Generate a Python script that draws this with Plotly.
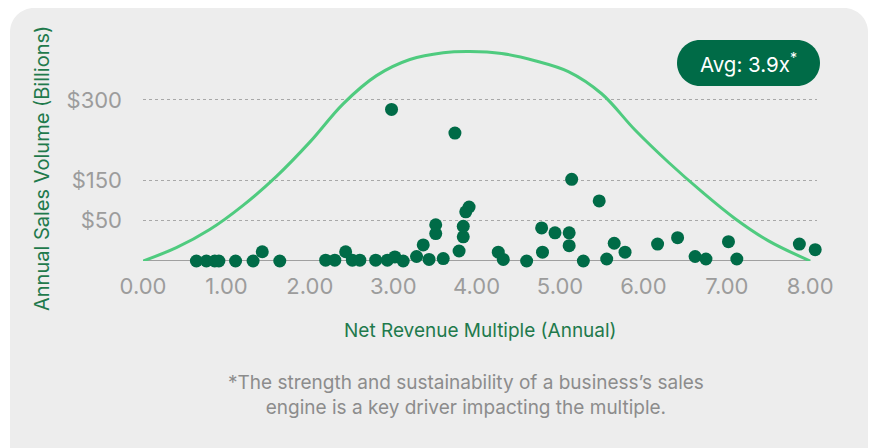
import numpy as np
import plotly.graph_objects as go

# ---- data -------------------------------------------------------------
# Net revenue multiple (annual) for each business
multiple = [0.64, 0.76, 0.86, 0.91, 1.11, 1.32, 1.43, 1.64, 2.19, 2.30,
            2.43, 2.51, 2.60, 2.79, 2.93, 3.02, 3.12, 2.98, 3.28, 3.36,
            3.43, 3.51, 3.51, 3.60, 3.66, 3.79, 3.84, 3.84, 3.87, 3.91,
            3.74, 4.26, 4.32, 4.60, 4.78, 4.79, 4.94, 5.11, 5.11, 5.28,
            5.14, 5.47, 5.56, 5.65, 5.78, 6.17, 6.41, 6.62, 6.75, 7.02,
            7.12, 7.87, 8.06]
# Annual sales volume, $ billions
sales = [0, 0, 0, 0, 0, 0, 11.5, 0, 1, 1,
         11.5, 1, 1, 1, 1, 5, 0, 282, 5.6, 20,
         2, 45, 34, 3, -6, 12.4, 30, 43, 72, 84,
         238, 11, 2, 0, 41, 11, 35, 35, 19, 0,
         152, 99, 2.5, 22, 11, 21, 29, 5.6, 2.5, 24,
         2.5, 21, 14]

# Bell-shaped distribution of multiples (height in y-axis units)
bell_x = [0.0, 0.4, 0.8, 1.2, 1.6, 2.0, 2.4, 2.8, 3.2, 3.6, 3.92,
          4.3, 4.7, 5.1, 5.5, 5.9, 6.3, 6.7, 7.1, 7.5, 8.0]
bell_height = [0.0, 0.33, 0.78, 1.38, 2.1, 2.95, 3.9, 4.6, 5.0, 5.17, 5.2,
               5.15, 4.97, 4.7, 4.15, 3.25, 2.45, 1.72, 1.05, 0.5, 0.0]

x_ticks = [0, 1, 2, 3, 4, 5, 6, 7, 8]
y_tick_values = [50, 150, 300]
y_tick_labels = ["$50", "$150", "$300"]
average_multiple = 3.9

# The sales axis is stretched piecewise: each break below gets equal room
scale_stops = [0, 50, 150, 300]
scale_pos = [0, 1, 2, 4]


def to_axis(v):
    v = np.asarray(v, dtype=float)
    pos = np.interp(v, scale_stops, scale_pos)
    pos = np.where(v < 0, v / 50.0, pos)
    return pos


# ---- geometry ----------------------------------------------------------
FIG_W, FIG_H = 875, 448
ML, MR, MT, MB = 143, 58, 30, 187
PW, PH = FIG_W - ML - MR, FIG_H - MT - MB
X_PX_PER_UNIT = 83.4
Y_PX_PER_UNIT = 40.3


def px_x(px):
    return (px - ML) / PW


def px_y(py):
    return (FIG_H - MB - py) / PH


def rounded_rect(x0, y0, x1, y1, r):
    k = 0.5523 * r
    pts = [
        ("M", [(x0 + r, y0)]),
        ("L", [(x1 - r, y0)]),
        ("C", [(x1 - r + k, y0), (x1, y0 + r - k), (x1, y0 + r)]),
        ("L", [(x1, y1 - r)]),
        ("C", [(x1, y1 - r + k), (x1 - r + k, y1), (x1 - r, y1)]),
        ("L", [(x0 + r, y1)]),
        ("C", [(x0 + r - k, y1), (x0, y1 - r + k), (x0, y1 - r)]),
        ("L", [(x0, y0 + r)]),
        ("C", [(x0, y0 + r - k), (x0 + r - k, y0), (x0 + r, y0)]),
    ]
    out = []
    for cmd, coords in pts:
        out.append(cmd + " " + " ".join(f"{px_x(a):.5f},{px_y(b):.5f}" for a, b in coords))
    return " ".join(out) + " Z"


FONT = "Inter, Roboto, sans-serif"
GREEN_DARK = "#006b47"
GREEN_LIGHT = "#4fcb7f"
GREEN_TEXT = "#1f7a4c"
GREY_TEXT = "#9c9c9c"

fig = go.Figure()

fig.add_trace(go.Scatter(
    x=bell_x, y=bell_height, mode="lines",
    line=dict(color=GREEN_LIGHT, width=3, shape="spline", smoothing=1.0),
    hoverinfo="skip", showlegend=False, cliponaxis=False,
))

fig.add_trace(go.Scatter(
    x=multiple, y=to_axis(sales), mode="markers",
    marker=dict(color=GREEN_DARK, size=13, line=dict(width=0)),
    showlegend=False, cliponaxis=False,
    customdata=sales,
    hovertemplate="%{x:.2f}x<br>$%{customdata}B<extra></extra>",
))

shapes = [
    # card background
    dict(type="path", xref="paper", yref="paper", layer="below",
         path=rounded_rect(10, 8, 868, 470, 24),
         fillcolor="#ededed", line=dict(width=0)),
    # baseline
    dict(type="line", xref="x", yref="y", layer="below",
         x0=0, x1=8, y0=0, y1=0, line=dict(color="#a0a0a0", width=2)),
    # average badge
    dict(type="path", xref="paper", yref="paper", layer="above",
         path=rounded_rect(677, 40, 820, 86, 23),
         fillcolor=GREEN_DARK, line=dict(width=0)),
]

annotations = [
    dict(xref="paper", yref="paper", x=px_x(748.5), y=px_y(63),
         text=f"Avg: {average_multiple}x<sup>*</sup>", showarrow=False,
         font=dict(family=FONT, size=20.5, color="white"),
         xanchor="center", yanchor="middle"),
    dict(xref="paper", yref="paper", x=px_x(480), y=px_y(330),
         text="Net Revenue Multiple (Annual)", showarrow=False,
         font=dict(family=FONT, size=19, color=GREEN_TEXT),
         xanchor="center", yanchor="middle"),
    dict(xref="paper", yref="paper", x=px_x(42), y=px_y(168),
         text="Annual Sales Volume (Billions)", showarrow=False, textangle=-90,
         font=dict(family=FONT, size=20, color=GREEN_TEXT),
         xanchor="center", yanchor="middle"),
    dict(xref="paper", yref="paper", x=px_x(466), y=px_y(395),
         text="*The strength and sustainability of a business\u2019s sales<br>"
              "engine is a key driver impacting the multiple.",
         showarrow=False, align="center",
         font=dict(family=FONT, size=19, color="#8c8c8c"),
         xanchor="center", yanchor="middle"),
]

fig.update_layout(
    width=FIG_W, height=FIG_H,
    margin=dict(l=ML, r=MR, t=MT, b=MB, pad=0),
    paper_bgcolor="white", plot_bgcolor="rgba(0,0,0,0)",
    shapes=shapes, annotations=annotations,
    font=dict(family=FONT),
)

fig.update_xaxes(
    range=[0, PW / X_PX_PER_UNIT], tickvals=x_ticks, tickformat=".2f",
    showgrid=False, zeroline=False, showline=False, ticks="",
    ticklabelstandoff=10,
    tickfont=dict(family=FONT, size=22, color=GREY_TEXT),
)
fig.update_yaxes(
    range=[0, PH / Y_PX_PER_UNIT], tickvals=list(to_axis(y_tick_values)),
    ticktext=y_tick_labels,
    showgrid=True, gridcolor="#a8a8a8", gridwidth=1.2, griddash="3px,3px",
    zeroline=False, showline=False, ticks="",
    ticklabelstandoff=20,
    tickfont=dict(family=FONT, size=22, color=GREY_TEXT),
)

fig.write_html("out.html")
